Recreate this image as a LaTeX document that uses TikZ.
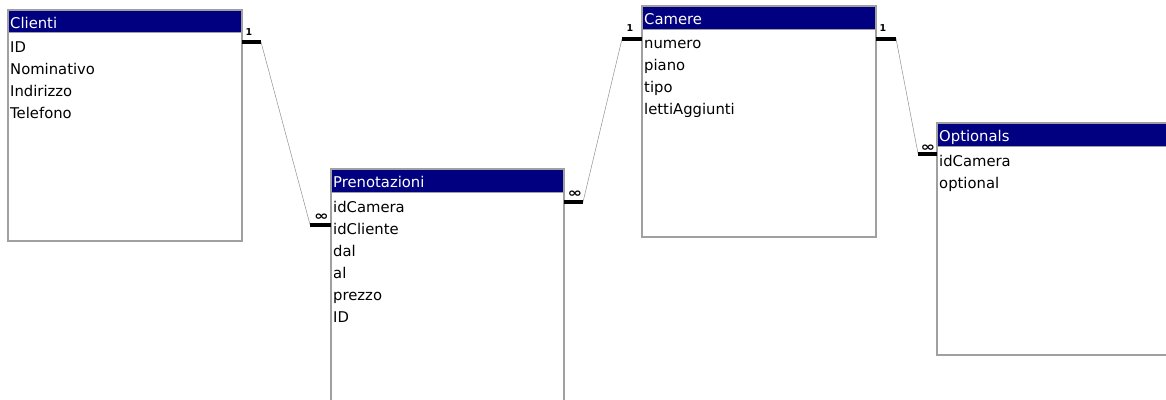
\documentclass[tikz,border=0pt]{standalone}
\usepackage{fontspec}
\usepackage{graphicx}
\setmainfont{DejaVu Sans}
\newfontfamily\markfont{DejaVu Sans Bold}
\definecolor{titlebg}{HTML}{000080}
\definecolor{boxborder}{HTML}{A0A0A0}
\definecolor{linkgray}{HTML}{909090}
\begin{document}
\begin{tikzpicture}[x=1pt,y=-1pt,
  tablebox/.style={draw=boxborder,line width=1.2pt,fill=white},
  titlebar/.style={fill=titlebg},
  titletext/.style={anchor=base west,inner sep=0pt,text=white,font=\fontsize{14.8}{16}\selectfont},
  rowtext/.style={anchor=base west,inner sep=0pt,text=black,font=\fontsize{14.8}{16}\selectfont},
  relbar/.style={line width=4pt,black},
  relline/.style={line width=0.5pt,linkgray},
  onetext/.style={inner sep=0pt,font=\markfont\fontsize{9.5}{9.5}\selectfont},
  manytext/.style={inner sep=0pt,font=\markfont\fontsize{13}{13}\selectfont},
]
\useasboundingbox (0,0) rectangle (1166,399);
\clip (0,0) rectangle (1166,399);
% ---------- Clienti ----------
\draw[tablebox] (8,10) rectangle (242,241);
\fill[titlebar] (9,10.6) rectangle (241.4,32);
\draw[boxborder,line width=0.8pt] (9,32.5) -- (241.4,32.5);
\node[titletext] (tCl) at (10,28) {Clienti};
\node[rowtext] (cl1) at (10,52) {ID};
\node[rowtext] (cl2) at (10,74) {Nominativo};
\node[rowtext] (cl3) at (10,96) {Indirizzo};
\node[rowtext] (cl4) at (10,118) {Telefono};
% ---------- Prenotazioni ----------
\draw[tablebox] (331,169) rectangle (564,420);
\fill[titlebar] (331.6,169.6) rectangle (563.4,192);
\draw[boxborder,line width=0.8pt] (331.6,192.5) -- (563.4,192.5);
\node[titletext] (tPr) at (333,187) {Prenotazioni};
\node[rowtext] (pr1) at (333,212) {idCamera};
\node[rowtext] (pr2) at (333,234) {idCliente};
\node[rowtext] (pr3) at (333,256) {dal};
\node[rowtext] (pr4) at (333,278) {al};
\node[rowtext] (pr5) at (333,300) {prezzo};
\node[rowtext] (pr6) at (333,322) {ID};
% ---------- Camere ----------
\draw[tablebox] (642,6) rectangle (876,237);
\fill[titlebar] (642.6,6.6) rectangle (875.4,29);
\draw[boxborder,line width=0.8pt] (642.6,29.5) -- (875.4,29.5);
\node[titletext] (tCa) at (644,24) {Camere};
\node[rowtext] (ca1) at (644,48) {numero};
\node[rowtext] (ca2) at (644,70) {piano};
\node[rowtext] (ca3) at (644,92) {tipo};
\node[rowtext] (ca4) at (644,114) {lettiAggiunti};
% ---------- Optionals ----------
\draw[tablebox] (937,123) rectangle (1180,355);
\fill[titlebar] (937.6,123.6) rectangle (1170,146);
\draw[boxborder,line width=0.8pt] (937.6,146.5) -- (1170,146.5);
\node[titletext] (tOp) at (939,141) {Optionals};
\node[rowtext] (op1) at (939,166) {idCamera};
\node[rowtext] (op2) at (939,188) {optional};
% ---------- relationship end points ----------
\coordinate (clA) at (242,42);
\coordinate (clB) at (261,42);
\coordinate (prLA) at (310,224.5);
\coordinate (prLB) at (331,224.5);
\coordinate (prRA) at (564,202);
\coordinate (prRB) at (583,202);
\coordinate (caLA) at (622,39);
\coordinate (caLB) at (642,39);
\coordinate (caRA) at (876,38.5);
\coordinate (caRB) at (896,38.5);
\coordinate (opA) at (918,153.5);
\coordinate (opB) at (937,153.5);
% connectors
\draw[relline] (clB) -- (prLA);
\draw[relline] (prRB) -- (caLA);
\draw[relline] (caRB) -- (opA);
% bars
\draw[relbar] (clA) -- (clB);
\draw[relbar] (prLA) -- (prLB);
\draw[relbar] (prRA) -- (prRB);
\draw[relbar] (caLA) -- (caLB);
\draw[relbar] (caRA) -- (caRB);
\draw[relbar] (opA) -- (opB);
% cardinality labels
\node[onetext] (m1) at (249,32.5) {1};
\node[manytext] (m2) at (321.5,217) {\scalebox{1.35}[1]{∞}};
\node[manytext] (m3) at (575,194.5) {\scalebox{1.35}[1]{∞}};
\node[onetext] (m4) at (630,28.5) {1};
\node[onetext] (m5) at (883,28) {1};
\node[manytext] (m6) at (928,148.5) {\scalebox{1.35}[1]{∞}};
\end{tikzpicture}
\end{document}
